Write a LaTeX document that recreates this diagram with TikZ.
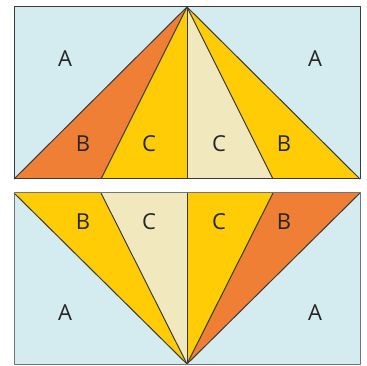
\documentclass[tikz,border=0pt]{standalone}
\usepackage{fontspec}
\setmainfont{Open Sans}
\definecolor{lblue}{HTML}{D4EBEF}
\definecolor{orng}{HTML}{EE7F35}
\definecolor{yel}{HTML}{FFCC06}
\definecolor{crm}{HTML}{F2E8BE}
\definecolor{edge}{HTML}{3A3A3A}
\begin{document}
\begin{tikzpicture}[x=1pt,y=-1pt,
  piece/.style={draw=edge,line width=1pt,line join=round},
  lbl/.style={font=\fontsize{22}{22}\selectfont,text=black!85,inner sep=0pt}]
\useasboundingbox (0,0) rectangle (367,366);
% top block
\coordinate (tTL) at (14,7);
\coordinate (tTR) at (360,7);
\coordinate (tBL) at (14,179);
\coordinate (tBR) at (360,179);
\coordinate (tApex) at (187,7);
\coordinate (tb1) at (101,179);
\coordinate (tb2) at (187,179);
\coordinate (tb3) at (273,179);
\fill[lblue] (tTL) rectangle (tBR);
\fill[orng] (tBL) -- (tApex) -- (tb1) -- cycle;
\fill[yel] (tb1) -- (tApex) -- (tb2) -- cycle;
\fill[crm] (tb2) -- (tApex) -- (tb3) -- cycle;
\fill[yel] (tb3) -- (tApex) -- (tBR) -- cycle;
\draw[piece] (tBL) -- (tApex) -- (tBR);
\draw[piece] (tb1) -- (tApex) -- (tb3);
\draw[piece] (tApex) -- (tb2);
\draw[piece] (tTL) rectangle (tBR);
% bottom block
\coordinate (bTL) at (14,193);
\coordinate (bTR) at (360,193);
\coordinate (bBL) at (14,364);
\coordinate (bBR) at (360,364);
\coordinate (bApex) at (187,364);
\coordinate (bb1) at (101,193);
\coordinate (bb2) at (187,193);
\coordinate (bb3) at (273,193);
\fill[lblue] (bTL) rectangle (bBR);
\fill[yel] (bTL) -- (bApex) -- (bb1) -- cycle;
\fill[crm] (bb1) -- (bApex) -- (bb2) -- cycle;
\fill[yel] (bb2) -- (bApex) -- (bb3) -- cycle;
\fill[orng] (bb3) -- (bApex) -- (bTR) -- cycle;
\draw[piece] (bTL) -- (bApex) -- (bTR);
\draw[piece] (bb1) -- (bApex) -- (bb3);
\draw[piece] (bApex) -- (bb2);
\draw[piece,draw=edge!70] (bTL) rectangle (bBR);
% labels
\node[lbl] (a1) at (65,59) {A};
\node[lbl] (a2) at (315,59) {A};
\node[lbl] (b1) at (83,144) {B};
\node[lbl] (c1) at (149,144) {C};
\node[lbl] (c2) at (219,144) {C};
\node[lbl] (b2) at (284,144) {B};
\node[lbl] (b3) at (83,222) {B};
\node[lbl] (c3) at (149,222) {C};
\node[lbl] (c4) at (219,222) {C};
\node[lbl] (b4) at (284,222) {B};
\node[lbl] (a3) at (65,313) {A};
\node[lbl] (a4) at (315,313) {A};
\end{tikzpicture}
\end{document}
